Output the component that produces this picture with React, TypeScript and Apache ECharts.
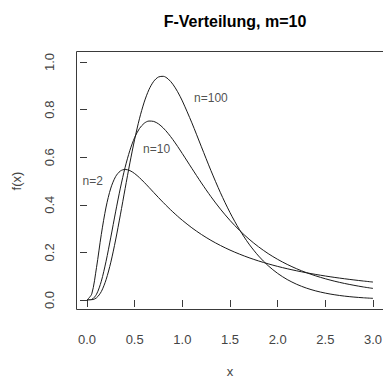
import React, { useEffect, useRef } from "react";
import * as echarts from "echarts";

// x grid of the density curves
const xs = [
  0, 0.05, 0.1, 0.15, 0.2, 0.25, 0.3, 0.35, 0.4, 0.45, 0.5, 0.55, 0.6, 0.65, 0.7, 0.75, 0.8, 0.85, 0.9, 0.95, 1.0,
  1.1, 1.2, 1.3, 1.4, 1.5, 1.6, 1.7, 1.8, 1.9, 2.0, 2.1, 2.2, 2.3, 2.4, 2.5, 2.6, 2.7, 2.8, 2.9, 3.0,
];
const fN2 = [
  0, 0.0256, 0.1372, 0.2754, 0.3906, 0.4704, 0.5184, 0.5421, 0.5487, 0.5437, 0.5312, 0.5141, 0.4944, 0.4733, 0.4518,
  0.4304, 0.4096, 0.3895, 0.3704, 0.3521, 0.3349, 0.3033, 0.2754, 0.2507, 0.229, 0.2097, 0.1927, 0.1775, 0.164, 0.152,
  0.1411, 0.1314, 0.1226, 0.1146, 0.1074, 0.1008, 0.0948, 0.0893, 0.0843, 0.0797, 0.0754,
];
const fN10 = [
  0, 0.0024, 0.0243, 0.0788, 0.1628, 0.2642, 0.3702, 0.4702, 0.5576, 0.6288, 0.6828, 0.7202, 0.7426, 0.7519, 0.7503,
  0.74, 0.7227, 0.7003, 0.6742, 0.6455, 0.6152, 0.553, 0.4919, 0.4343, 0.3817, 0.3344, 0.2925, 0.2556, 0.2233, 0.1951,
  0.1707, 0.1495, 0.1311, 0.1151, 0.1013, 0.0892, 0.0787, 0.0696, 0.0618, 0.0547, 0.0487,
];
const fN100 = [
  0, 0.0008, 0.0092, 0.0353, 0.0852, 0.1588, 0.252, 0.3577, 0.4682, 0.5761, 0.6753, 0.7613, 0.8314, 0.884, 0.9189,
  0.9371, 0.9398, 0.9291, 0.9068, 0.8752, 0.8364, 0.7444, 0.6438, 0.5438, 0.4506, 0.3673, 0.2953, 0.2347, 0.1848,
  0.1442, 0.1117, 0.086, 0.0659, 0.0502, 0.0381, 0.0289, 0.0218, 0.0164, 0.0123, 0.0093, 0.0069,
];

// curve labels (data coordinates)
const labelTexts = ["n=2", "n=10", "n=100"];
const labelX = [0.06, 0.73, 1.3];
const labelY = [0.5, 0.633, 0.85];

const xTicks = [0, 0.5, 1, 1.5, 2, 2.5, 3];
const yTicks = [0, 0.2, 0.4, 0.6, 0.8, 1];

const FONT = "'Liberation Sans', Arial, Helvetica, sans-serif";
const LINE = "#1a1a1a";
const AXIS = "#3a3a3a";
const TXT = "#444";

export default function App() {
  const ref = useRef<HTMLDivElement>(null);
  useEffect(() => {
    if (!ref.current) return;
    const chart = echarts.init(ref.current, undefined, { renderer: "svg" });
    const mk = (ys: number[]) => xs.map((x, i) => [x, ys[i]]);
    const curve = (name: string, ys: number[]) => ({
      name,
      type: "line",
      data: mk(ys),
      showSymbol: false,
      symbol: "none",
      smooth: 0.3,
      lineStyle: { color: LINE, width: 1 },
      silent: true,
    });
    chart.setOption({
      animation: false,
      backgroundColor: "#fff",
      textStyle: { fontFamily: FONT },
      title: {
        text: "F-Verteilung, m=10",
        left: 230,
        textAlign: "center",
        top: 8,
        textStyle: { fontFamily: FONT, fontSize: 16, fontWeight: "bold", color: "#000" },
      },
      grid: { left: 87, right: 10, top: 62, bottom: 79, containLabel: false, outerBoundsMode: "none" },
      xAxis: {
        type: "value",
        min: xTicks[0],
        max: xTicks[xTicks.length - 1],
        interval: 0.5,
        offset: 9,
        axisLine: { show: false },
        axisTick: { show: true, length: 7, lineStyle: { color: AXIS, width: 1 } },
        axisLabel: {
          margin: 24,
          fontSize: 13,
          color: TXT,
          fontFamily: FONT,
          formatter: (v: number) => v.toFixed(1),
        },
        splitLine: { show: false },
        name: "x",
        nameLocation: "middle",
        nameGap: 56,
        nameTextStyle: { fontSize: 13, lineHeight: 13, color: TXT, fontFamily: FONT },
      },
      yAxis: {
        type: "value",
        min: yTicks[0],
        max: yTicks[yTicks.length - 1],
        interval: 0.2,
        offset: 11,
        axisLine: { show: false },
        axisTick: { show: true, length: 7, lineStyle: { color: AXIS, width: 1 } },
        axisLabel: {
          margin: 20,
          fontSize: 13,
          rotate: 90,
          color: TXT,
          fontFamily: FONT,
          formatter: (v: number) => v.toFixed(1),
        },
        splitLine: { show: false },
        name: "f(x)",
        nameLocation: "middle",
        nameGap: 53,
        nameRotate: 90,
        nameTextStyle: { fontSize: 13, color: TXT, fontFamily: FONT },
      },
      graphic: [
        {
          type: "rect",
          shape: { x: 76.5, y: 51.5, width: 310, height: 258 },
          style: { fill: "none", stroke: AXIS, lineWidth: 1 },
          z: 100,
          silent: true,
        },
      ],
      series: [
        curve("n=2", fN2),
        curve("n=10", fN10),
        curve("n=100", fN100),
        {
          type: "scatter",
          data: labelX.map((x, i) => [x, labelY[i], labelTexts[i]]),
          symbolSize: 0,
          silent: true,
          label: {
            show: true,
            position: "inside",
            formatter: (p: any) => p.data[2],
            fontSize: 12,
            color: "#222",
            fontFamily: FONT,
          },
        },
      ],
    });
    return () => chart.dispose();
  }, []);
  return (
    <div
      ref={ref}
      style={{ position: "fixed", left: 0, top: 0, width: 383, height: 379, background: "#fff" }}
    />
  );
}
